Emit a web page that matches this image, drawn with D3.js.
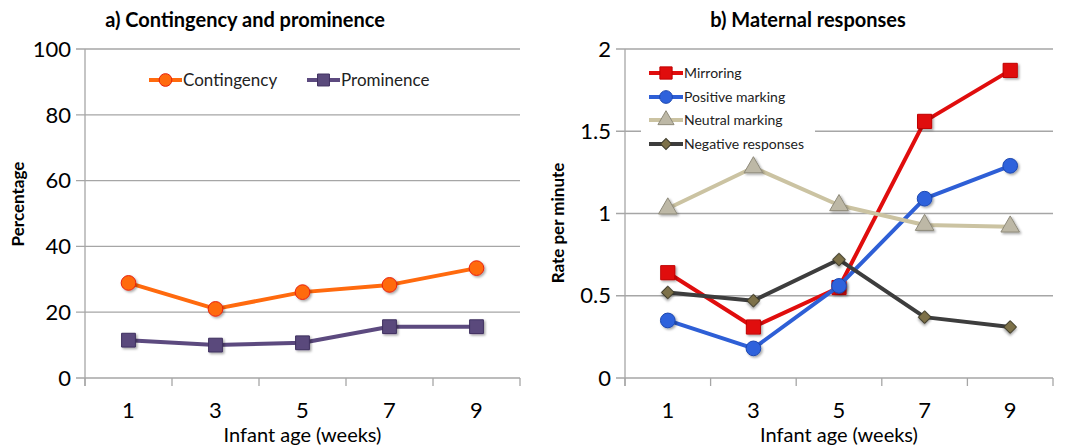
<!DOCTYPE html>
<html>
<head>
<meta charset="utf-8">
<script src="https://cdn.jsdelivr.net/npm/d3@7.9.0/dist/d3.min.js"></script>
<style>
  body { margin: 0; background: #fff; }
  svg { font-family: Lato, "Open Sans", sans-serif; }
</style>
</head>
<body>
<svg id="chart" width="1072" height="447"></svg>
<script>
// ---- data ----
const weeks = [1, 3, 5, 7, 9];

const contingency = [28.9, 21.0, 26.1, 28.3, 33.4];
const prominence = [11.5, 10.0, 10.7, 15.6, 15.6];

const mirroring = [0.64, 0.31, 0.55, 1.56, 1.87];
const positiveMarking = [0.35, 0.18, 0.56, 1.09, 1.29];
const neutralMarking = [1.03, 1.28, 1.05, 0.93, 0.92];
const negativeResponses = [0.52, 0.47, 0.72, 0.37, 0.31];

const leftTicks = [0, 20, 40, 60, 80, 100];
const rightTicks = [0, 0.5, 1, 1.5, 2];

const svg = d3.select('#chart');

// drop shadow for markers
const defs = svg.append('defs');
const f = defs.append('filter').attr('id', 'shadow')
  .attr('x', '-50%').attr('y', '-50%').attr('width', '200%').attr('height', '200%');
f.append('feDropShadow').attr('dx', 1.5).attr('dy', 1.5).attr('stdDeviation', 1)
  .attr('flood-color', '#000').attr('flood-opacity', 0.35);

// square turned 45deg, wider than d3's own diamond
function symbolPath(type, size) {
  return d3.symbol().type(type).size(size)();
}
function markerRotate(s) {
  return s.rotate ? ' rotate(45)' : '';
}

function drawPanel(opts) {
  const { left, right, top, bottom, domainMax, ticks, tickFmt, title, titleX, yTitle, yTitleX, yTitleY, series } = opts;

  const g = svg.append('g');

  const x = d3.scaleBand().domain(weeks).range([left, right]);
  const y = d3.scaleLinear().domain([0, domainMax]).range([bottom, top]);

  // gridlines
  g.append('g')
    .selectAll('line')
    .data(ticks)
    .join('line')
    .attr('x1', left - 9)
    .attr('x2', right)
    .attr('y1', (d) => y(d))
    .attr('y2', (d) => y(d))
    .attr('stroke', '#a6a6a6')
    .attr('stroke-width', 1.3);

  // y axis line
  g.append('line')
    .attr('x1', left).attr('x2', left)
    .attr('y1', top).attr('y2', bottom + 8)
    .attr('stroke', '#a6a6a6').attr('stroke-width', 1.3);

  // x ticks at band edges
  const edges = weeks.map((w) => x(w)).concat([right]);
  g.append('g')
    .selectAll('line')
    .data(edges)
    .join('line')
    .attr('x1', (d) => d).attr('x2', (d) => d)
    .attr('y1', bottom).attr('y2', bottom + 8)
    .attr('stroke', '#a6a6a6').attr('stroke-width', 1.3);

  // y tick labels
  g.append('g')
    .selectAll('text')
    .data(ticks)
    .join('text')
    .attr('x', left - 14)
    .attr('y', (d) => y(d))
    .attr('dy', '0.35em')
    .attr('text-anchor', 'end')
    .attr('font-size', 22)
    .attr('fill', '#000')
    .text(tickFmt);

  // x tick labels
  g.append('g')
    .selectAll('text')
    .data(weeks)
    .join('text')
    .attr('x', (d) => x(d) + x.bandwidth() / 2)
    .attr('y', bottom + 40)
    .attr('text-anchor', 'middle')
    .attr('font-size', 22)
    .text((d) => d);

  // x title
  g.append('text')
    .attr('x', (left + right) / 2)
    .attr('y', bottom + 64)
    .attr('text-anchor', 'middle')
    .attr('font-size', 20)
    .text('Infant age (weeks)');

  // y title
  g.append('text')
    .attr('transform', `translate(${yTitleX}, ${yTitleY}) rotate(-90)`)
    .attr('text-anchor', 'middle')
    .attr('font-size', 17)
    .attr('font-weight', 'bold')
    .text(yTitle);

  // panel title
  g.append('text')
    .attr('x', titleX)
    .attr('y', 27)
    .attr('text-anchor', 'middle')
    .attr('font-size', 20)
    .attr('font-weight', 'bold')
    .text(title);

  // legend background
  if (opts.legendBox) {
    const b = opts.legendBox;
    g.append('rect')
      .attr('x', b[0]).attr('y', b[1]).attr('width', b[2]).attr('height', b[3])
      .attr('fill', '#fff');
  }

  const line = d3.line()
    .x((d, i) => x(weeks[i]) + x.bandwidth() / 2)
    .y((d) => y(d));

  series.forEach((s) => {
    g.append('path')
      .datum(s.values)
      .attr('fill', 'none')
      .attr('stroke', s.color)
      .attr('stroke-width', 4)
      .attr('stroke-linejoin', 'round')
      .attr('d', line);

    g.append('g')
      .selectAll('path')
      .data(s.values)
      .join('path')
      .attr('transform', (d, i) => `translate(${x(weeks[i]) + x.bandwidth() / 2}, ${y(d)})` + markerRotate(s))
      .attr('d', symbolPath(s.symbol, s.size))
      .attr('fill', s.fill)
      .attr('stroke', s.stroke)
      .attr('stroke-width', 1)
      .attr('filter', 'url(#shadow)');
  });

  // legend entries
  series.forEach((s) => {
    const lg = g.append('g').attr('transform', `translate(${s.legend[0]}, ${s.legend[1]})`);
    lg.append('line')
      .attr('x1', 0).attr('x2', opts.legendLineW)
      .attr('stroke', s.color).attr('stroke-width', 4);
    lg.append('path')
      .attr('transform', `translate(${opts.legendLineW / 2}, 0)` + markerRotate(s))
      .attr('d', symbolPath(s.symbol, s.size * 0.75))
      .attr('fill', s.fill)
      .attr('stroke', s.stroke)
      .attr('stroke-width', 1);
    lg.append('text')
      .attr('x', opts.legendLineW + 1)
      .attr('dy', '0.35em')
      .attr('font-size', opts.legendFont)
      .attr('fill', '#222')
      .text(s.name);
  });
}

drawPanel({
  left: 85, right: 520, top: 49, bottom: 378,
  domainMax: 100, ticks: leftTicks, tickFmt: (d) => d,
  title: 'a) Contingency and prominence', titleX: 245,
  yTitle: 'Percentage', yTitleX: 24, yTitleY: 204,
  legendLineW: 33, legendFont: 17,
  series: [
    { name: 'Contingency', values: contingency, color: '#ff6a0e', fill: '#ff6a0e', stroke: '#e8200a',
      symbol: d3.symbolCircle, size: 170, legend: [149, 80] },
    { name: 'Prominence', values: prominence, color: '#5c4a7f', fill: '#5a4a7c', stroke: '#3f3060',
      symbol: d3.symbolSquare, size: 190, legend: [307, 80] },
  ],
});

drawPanel({
  left: 625, right: 1053, top: 49, bottom: 378,
  domainMax: 2, ticks: rightTicks, tickFmt: (d) => d,
  title: 'b) Maternal responses', titleX: 808,
  yTitle: 'Rate per minute', yTitleX: 564, yTitleY: 223,
  legendBox: [641, 60, 174, 96],
  legendLineW: 34, legendFont: 14,
  series: [
    { name: 'Mirroring', values: mirroring, color: '#e00d0d', fill: '#e00d0d', stroke: '#c00000',
      symbol: d3.symbolSquare, size: 200, legend: [649, 73] },
    { name: 'Positive marking', values: positiveMarking, color: '#2e5fd6', fill: '#2e62dc', stroke: '#1d48b0',
      symbol: d3.symbolCircle, size: 170, legend: [649, 97] },
    { name: 'Neutral marking', values: neutralMarking, color: '#cbc3a2', fill: '#bdb8a6', stroke: '#8e8a7a',
      symbol: d3.symbolTriangle, size: 150, legend: [649, 120] },
    { name: 'Negative responses', values: negativeResponses, color: '#3d3d3d', fill: '#7d7148', stroke: '#3d3a2a',
      symbol: d3.symbolSquare, size: 80, rotate: true, legend: [649, 144] },
  ],
});
</script>
</body>
</html>
